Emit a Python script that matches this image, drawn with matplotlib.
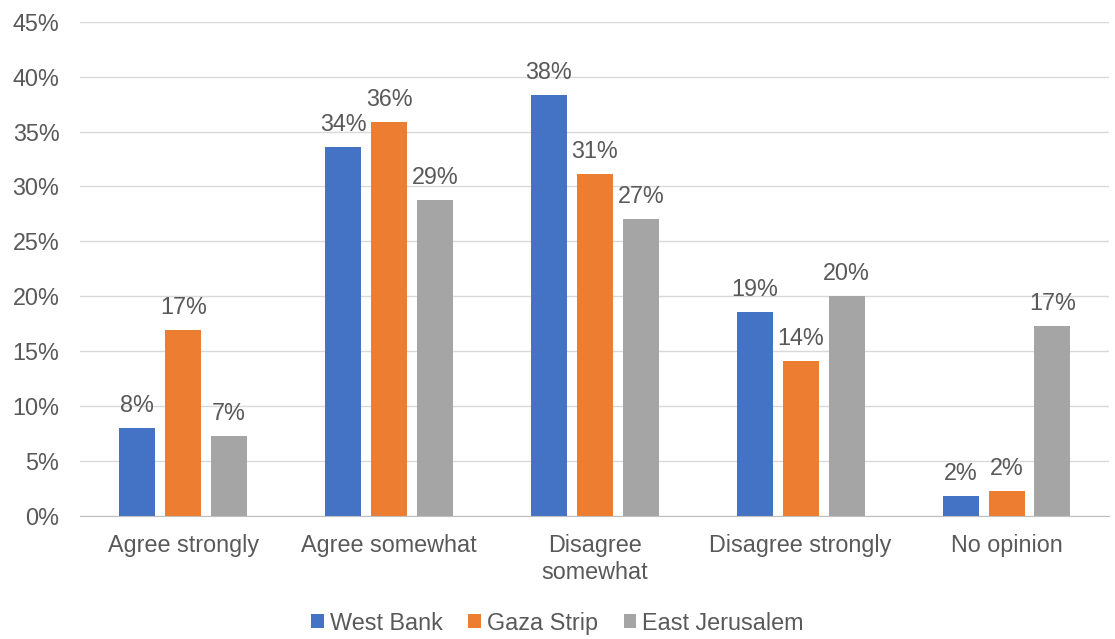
import matplotlib.pyplot as plt
import numpy as np

categories = ['Agree strongly', 'Agree somewhat', 'Disagree\nsomewhat', 'Disagree strongly', 'No opinion']
west_bank = [8.0, 33.6, 38.3, 18.6, 1.8]
gaza_strip = [16.9, 35.9, 31.1, 14.1, 2.3]
east_jerusalem = [7.3, 28.8, 27.0, 20.0, 17.3]
series_names = ['West Bank', 'Gaza Strip', 'East Jerusalem']
colors = ['#4472C4', '#ED7D31', '#A5A5A5']

plt.rcParams['font.family'] = ['Liberation Sans', 'DejaVu Sans']
txt = '#595959'
fs = 16.8

fig = plt.figure(figsize=(11.15, 6.39), dpi=100)
ax = fig.add_axes([0.072, 0.1925, 0.923, 0.7735])

x = np.arange(len(categories))
width = 0.175
step = 0.223
for i, (vals, name, c) in enumerate(zip([west_bank, gaza_strip, east_jerusalem], series_names, colors)):
    pos = x + (i - 1) * step
    bars = ax.bar(pos, vals, width, color=c, label=name, zorder=3)
    for b, v in zip(bars, vals):
        ax.text(b.get_x() + b.get_width() / 2, v + 1.0, f'{round(v):.0f}%',
                ha='center', va='bottom', fontsize=fs, color=txt)

ax.set_ylim(0, 45)
ax.set_xlim(-0.5, len(categories) - 0.5)
ax.set_yticks(np.arange(0, 46, 5))
ax.set_yticklabels([f'{t}%' for t in range(0, 46, 5)], fontsize=fs, color=txt)
ax.set_xticks(x)
ax.set_xticklabels(categories, fontsize=fs, color=txt, linespacing=1.2)
ax.tick_params(axis='y', length=0, pad=15)
ax.tick_params(axis='x', length=0, pad=13)
ax.grid(axis='y', color='#D9D9D9', linewidth=1, zorder=0)
for s in ['top', 'right', 'left']:
    ax.spines[s].set_visible(False)
ax.spines['bottom'].set_color('#BFBFBF')
ax.spines['bottom'].set_zorder(4)

fig.legend(*ax.get_legend_handles_labels(), loc='center', bbox_to_anchor=(0.5, 0.025),
           ncol=3, frameon=False, fontsize=fs, handlelength=0.55, handleheight=0.55,
           handletextpad=0.25, columnspacing=1.1, labelcolor=txt)

fig.savefig('out.png', dpi=100)
